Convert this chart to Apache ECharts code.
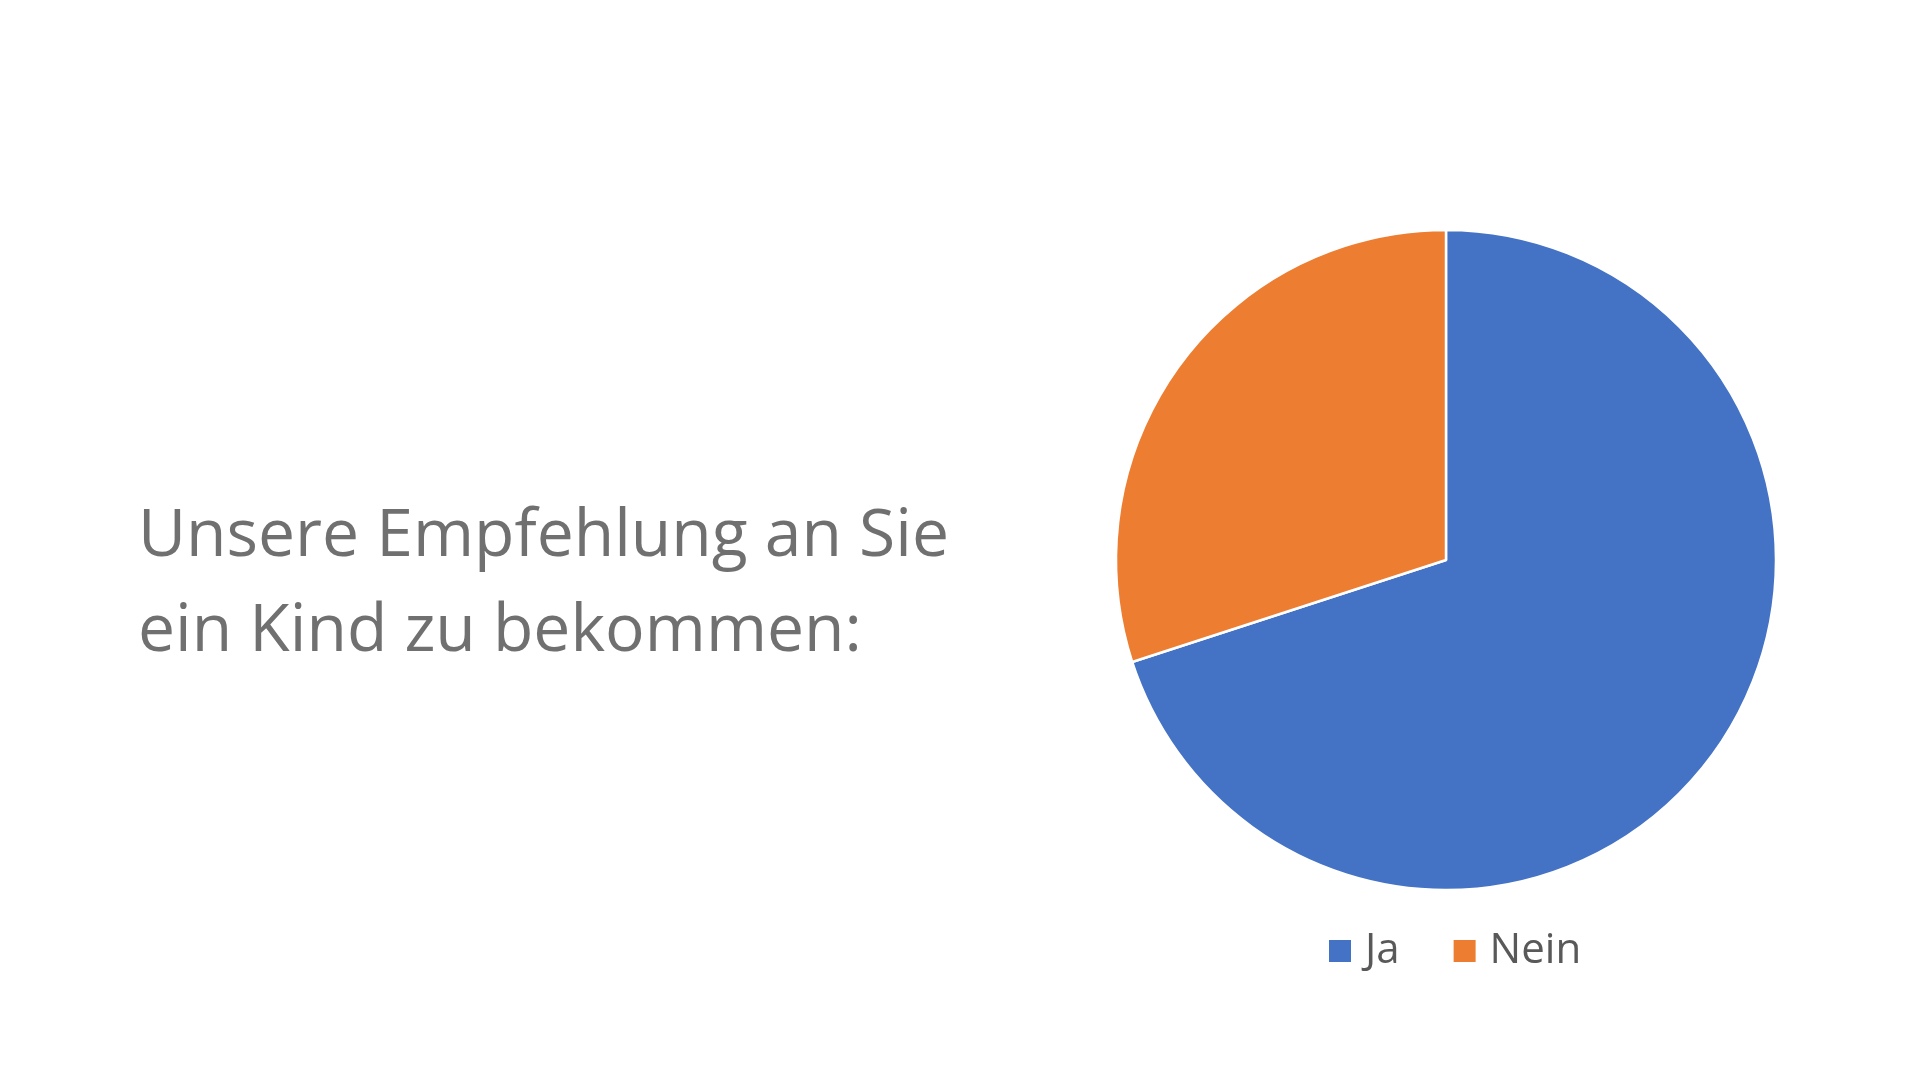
<!DOCTYPE html>
<html>
<head>
<meta charset="utf-8">
<script src="https://cdn.jsdelivr.net/npm/echarts@6/dist/echarts.min.js"></script>
<style>
html,body{margin:0;padding:0;background:#fff;}
#chart{width:1920px;height:1080px;}
</style>
</head>
<body>
<div id="chart"></div>
<script>
const titleLines = ['Unsere Empfehlung an Sie', 'ein Kind zu bekommen:'];
const categories = ['Ja', 'Nein'];
const values = [70, 30];
const colors = ['#4472C4', '#ED7D31'];

const chart = echarts.init(document.getElementById('chart'));
chart.setOption({
  backgroundColor: '#ffffff',
  animation: false,
  title: {
    text: titleLines.join('\n'),
    left: 133,
    top: 485,
    textStyle: {
      fontFamily: 'Open Sans',
      fontWeight: 'normal',
      fontSize: 66,
      lineHeight: 95,
      color: '#707070'
    }
  },
  legend: {
    data: categories,
    left: 1322,
    top: 925,
    itemWidth: 24,
    itemHeight: 24,
    itemGap: 52,
    icon: 'rect',
    textStyle: {
      fontFamily: 'Open Sans',
      fontSize: 42,
      color: '#595959',
      padding: [0, 0, 0, 8]
    }
  },
  series: [{
    type: 'pie',
    center: [1446, 560],
    radius: 330,
    startAngle: 90,
    clockwise: true,
    label: { show: false },
    labelLine: { show: false },
    itemStyle: { borderColor: '#ffffff', borderWidth: 2.5 },
    emphasis: { disabled: true },
    data: categories.map((c, i) => ({ name: c, value: values[i], itemStyle: { color: colors[i] } }))
  }]
});
</script>
</body>
</html>
